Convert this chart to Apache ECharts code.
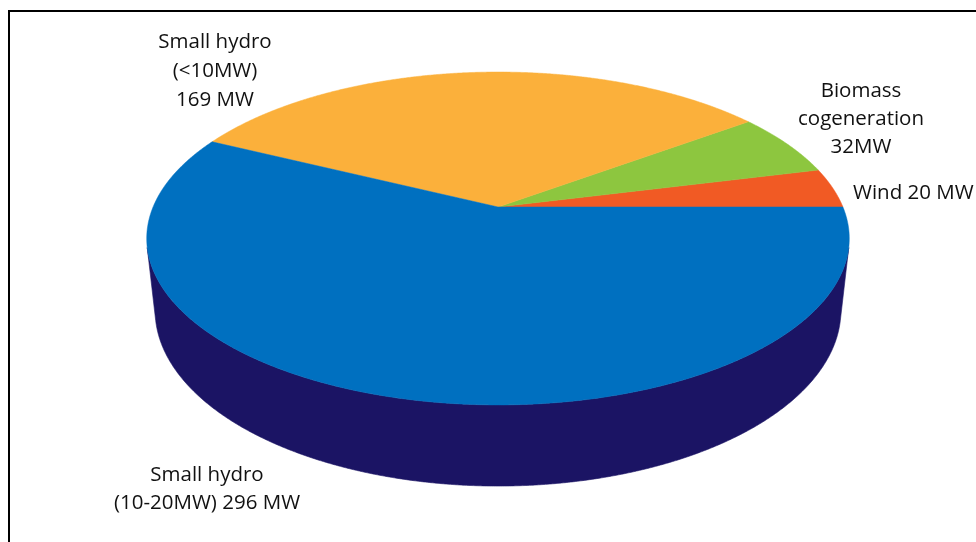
<!DOCTYPE html>
<html>
<head>
<meta charset="utf-8">
<script src="https://cdn.jsdelivr.net/npm/echarts@6/dist/echarts.min.js"></script>
<style>
  html, body { margin: 0; padding: 0; background: #ffffff; }
  #chart { width: 976px; height: 542px; }
</style>
</head>
<body>
<div id="chart"></div>
<script>
// Installed renewable capacity by source (MW), listed counter-clockwise from the right edge
const categories = ['Wind', 'Biomass cogeneration', 'Small hydro (<10MW)', 'Small hydro (10-20MW)'];
const capacityMW = [20, 32, 169, 296];
const topColors = ['#F15A24', '#8DC63F', '#FBB03B', '#0070C0'];
const sideColors = ['#8A2A0C', '#4D7A1E', '#A86F12', '#1B1464'];

// Label text for each slice
const labelTexts = [
  'Wind 20 MW',
  'Biomass\ncogeneration\n32MW',
  'Small hydro\n(<10MW)\n169 MW',
  'Small hydro\n(10-20MW) 296 MW'
];

const total = capacityMW.reduce((a, b) => a + b, 0);
let acc = 0;
const sliceData = capacityMW.map((v, i) => {
  const item = { name: categories[i], value: [acc, acc + v, i] };
  acc += v;
  return item;
});

// Perspective camera looking down on a disc of unit radius
const CAM = { cx: 498, cy: 207, F: 1614, L: 4.679, sinA: 0.4653, cosA: 0.885, H: 0.237 };

function project(theta, z) {
  const d = CAM.L + Math.sin(theta) * CAM.cosA - z * CAM.sinA;
  return [
    CAM.cx + CAM.F * Math.cos(theta) / d,
    CAM.cy - CAM.F * (Math.sin(theta) * CAM.sinA + z * CAM.cosA) / d
  ];
}

function arc(a0, a1, z) {
  const pts = [];
  const n = Math.max(2, Math.ceil(Math.abs(a1 - a0) / (Math.PI / 720)));
  for (let k = 0; k <= n; k++) pts.push(project(a0 + (a1 - a0) * k / n, z));
  return pts;
}

const toAngle = v => v / total * Math.PI * 2;

// Outer wall is visible where its normal faces the camera
const edge = Math.asin(1 / (CAM.L * CAM.cosA));
const visFrom = Math.PI + edge;
const visTo = 2 * Math.PI - edge;

function renderSide(params, api) {
  const a0 = Math.max(toAngle(api.value(0)), visFrom);
  const a1 = Math.min(toAngle(api.value(1)), visTo);
  if (a1 <= a0) return null;
  const top = arc(a0, a1, 0);
  const bottom = arc(a1, a0, -CAM.H);
  return {
    type: 'polygon',
    shape: { points: top.concat(bottom) },
    style: { fill: sideColors[api.value(2)], stroke: sideColors[api.value(2)], lineWidth: 0.6 }
  };
}

function renderTop(params, api) {
  const a0 = toAngle(api.value(0));
  const a1 = toAngle(api.value(1));
  const pts = [[CAM.cx, CAM.cy]].concat(arc(a0, a1, 0));
  return {
    type: 'polygon',
    shape: { points: pts },
    style: { fill: topColors[api.value(2)], stroke: topColors[api.value(2)], lineWidth: 0.5 }
  };
}

const chart = echarts.init(document.getElementById('chart'), null, { renderer: 'canvas' });

const labelFont = { fontFamily: 'Open Sans', fontSize: 20.5, fill: '#111111' };

chart.setOption({
  animation: false,
  backgroundColor: '#ffffff',
  series: [
    { type: 'custom', coordinateSystem: 'none', renderItem: renderSide, data: sliceData, z: 1, silent: true },
    { type: 'custom', coordinateSystem: 'none', renderItem: renderTop, data: sliceData, z: 2, silent: true }
  ],
  graphic: [
    { type: 'rect', shape: { x: 9, y: 11, width: 1200, height: 800 }, style: { fill: null, stroke: '#000000', lineWidth: 2 }, z: 10 },
    { type: 'text', x: 215, y: 71, style: Object.assign({ text: labelTexts[2], align: 'center', verticalAlign: 'middle', lineHeight: 29 }, labelFont), z: 10 },
    { type: 'text', x: 861, y: 119, style: Object.assign({ text: labelTexts[1], align: 'center', verticalAlign: 'middle', lineHeight: 28 }, labelFont), z: 10 },
    { type: 'text', x: 853, y: 193, style: Object.assign({ text: labelTexts[0], align: 'left', verticalAlign: 'middle' }, labelFont), z: 10 },
    { type: 'text', x: 207, y: 489, style: Object.assign({ text: labelTexts[3], align: 'center', verticalAlign: 'middle', lineHeight: 28 }, labelFont), z: 10 }
  ]
});
</script>
</body>
</html>
